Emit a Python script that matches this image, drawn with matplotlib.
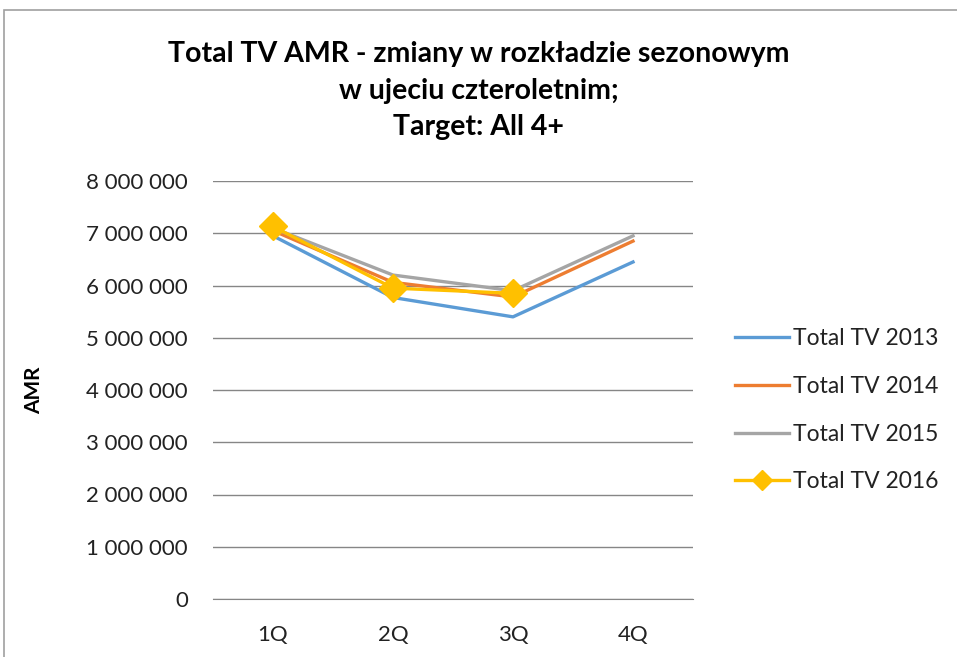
import matplotlib
matplotlib.use("Agg")
import matplotlib.pyplot as plt
from matplotlib.ticker import FuncFormatter, MultipleLocator

plt.rcParams['font.family'] = ['Lato', 'DejaVu Sans']

quarters = ["1Q", "2Q", "3Q", "4Q"]
tv2013 = [6950000, 5770000, 5400000, 6450000]
tv2014 = [7050000, 6060000, 5780000, 6850000]
tv2015 = [7100000, 6200000, 5900000, 6950000]
tv2016 = [7130000, 5950000, 5850000]
series_labels = ["Total TV 2013", "Total TV 2014", "Total TV 2015", "Total TV 2016"]
title = "Total TV AMR - zmiany w rozkładzie sezonowym\nw ujeciu czteroletnim;\nTarget: All 4+"

fig = plt.figure(figsize=(9.57, 6.57), dpi=100)
ax = fig.add_axes([213/957, 1-599/657, (693-213)/957, (599-181)/657])

x = list(range(len(quarters)))
ax.plot(x, tv2013, color="#5B9BD5", lw=2.4, label=series_labels[0], zorder=3)
ax.plot(x, tv2014, color="#ED7D31", lw=2.4, label=series_labels[1], zorder=3)
ax.plot(x, tv2015, color="#A5A5A5", lw=2.4, label=series_labels[2], zorder=3)
ax.plot(x[:len(tv2016)], tv2016, color="#FFC000", lw=2.4, marker="D", markersize=14,
        label=series_labels[3], zorder=4)

ax.set_xlim(-0.5, len(quarters) - 0.5)
ax.set_ylim(0, 8000000)
ax.yaxis.set_major_locator(MultipleLocator(1000000))
ax.yaxis.set_major_formatter(FuncFormatter(lambda v, p: f"{int(v):,}".replace(",", " ")))
ax.set_xticks(x)
ax.set_xticklabels(quarters)
ax.grid(axis="y", color="#868686", lw=1)
ax.set_axisbelow(True)
for s in ["top", "right", "left"]:
    ax.spines[s].set_visible(False)
ax.spines["bottom"].set_color("#868686")
ax.tick_params(axis="both", length=0, labelsize=16, colors="#222222")
ax.tick_params(axis="x", pad=19)
ax.tick_params(axis="y", pad=18)
ax.set_ylabel("AMR", fontsize=15, fontweight="bold", labelpad=30)

fig.text(0.5, 1 - 41/657, title, ha="center", va="top", fontsize=20.5,
         fontweight="bold", linespacing=1.5)

leg = ax.legend(loc="upper left", bbox_to_anchor=(735/957, 1 - 328/657),
                bbox_transform=fig.transFigure, frameon=False, borderaxespad=0,
                borderpad=0, fontsize=16.5, handlelength=2.35, labelspacing=1.17,
                handletextpad=0.2, markerscale=0.75)
for t in leg.get_texts():
    t.set_color("#222222")

border = plt.Rectangle((4/957, -0.01), 1.0, 1 - 10/657 + 0.01, transform=fig.transFigure,
                       fill=False, edgecolor="#A0A0A0", lw=1.2)
fig.patches.append(border)

fig.savefig("out.png", dpi=100)
